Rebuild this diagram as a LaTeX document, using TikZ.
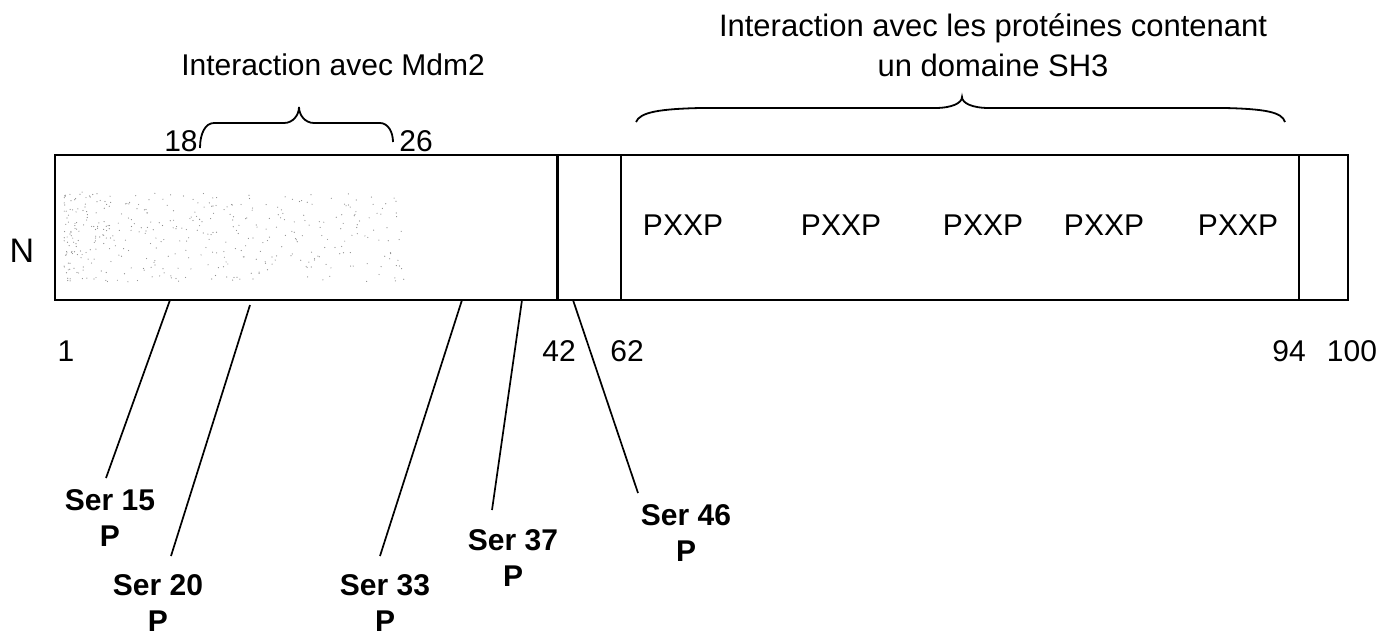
\documentclass[tikz,border=0pt]{standalone}
\usepackage{fontspec}
\setmainfont{Liberation Sans}
\begin{document}
\begin{tikzpicture}[x=1pt,y=-1pt,
  lab/.style={font=\fontsize{30}{36}\selectfont, inner sep=0pt},
  title/.style={font=\fontsize{31}{40}\selectfont, inner sep=0pt, align=center},
  ser/.style={font=\fontsize{30}{36}\selectfont\bfseries, align=center, inner sep=0pt, anchor=north},
  conn/.style={line width=1.7pt},
  outline/.style={line width=2.3pt},
  bracestyle/.style={line width=1.8pt}]
\useasboundingbox (0,0) rectangle (1394,638);

% stipple texture in the left region
\pgfmathsetseed{42}
\foreach \i in {1,...,420}{
  \pgfmathsetmacro{\px}{64+340*pow(rnd,1.5)}
  \pgfmathsetmacro{\py}{192+90*rnd}
  \fill[black!45] (\px,\py) circle (0.6pt);
}

% box
\coordinate (bnw) at (55,155);
\coordinate (bse) at (1348,300);
\draw[outline] (bnw) rectangle (bse);
\coordinate (d1t) at (557,155); \coordinate (d1b) at (557,300);
\coordinate (d2t) at (621,155); \coordinate (d2b) at (621,300);
\coordinate (d3t) at (1299,155); \coordinate (d3b) at (1299,300);
\draw[line width=3pt] (d1t) -- (d1b);
\draw[outline] (d2t) -- (d2b);
\draw[outline] (d3t) -- (d3b);

% labels inside box
\node[lab, anchor=base] (px1) at (683,235) {PXXP};
\node[lab, anchor=base] (px2) at (841,235) {PXXP};
\node[lab, anchor=base] (px3) at (983,235) {PXXP};
\node[lab, anchor=base] (px4) at (1104,235) {PXXP};
\node[lab, anchor=base] (px5) at (1238,235) {PXXP};
\node[lab, anchor=base, font=\fontsize{34}{40}\selectfont] (nterm) at (22,262) {N};

% position numbers
\node[lab, anchor=base] (n1) at (66,361) {1};
\node[lab, anchor=base] (n42) at (559,361) {42};
\node[lab, anchor=base] (n62) at (627,361) {62};
\node[lab, anchor=base] (n94) at (1289,361) {94};
\node[lab, anchor=base] (n100) at (1352,361) {100};
\node[lab, anchor=base] (n18) at (181,151) {18};
\node[lab, anchor=base] (n26) at (416,151) {26};

% titles
\node[lab, anchor=base] (tmdm) at (333,75) {Interaction avec Mdm2};
\node[title, anchor=north] (tsh3) at (993,13) {Interaction avec les protéines contenant\\un domaine SH3};

% braces
\draw[bracestyle] (200,148) .. controls (200,134) and (205,123) .. (214,123)
  -- (284,123) .. controls (293,123) and (299,115) .. (299,107)
  .. controls (299,115) and (305,123) .. (314,123)
  -- (380,123) .. controls (388,123) and (393,132) .. (393,142);
\draw[bracestyle] (636,122) .. controls (640,112) and (660,109) .. (700,108)
  -- (935,108) .. controls (952,108) and (962,103) .. (962,97)
  .. controls (962,103) and (972,108) .. (989,108)
  -- (1225,108) .. controls (1265,109) and (1282,112) .. (1285,122);

% phosphorylation sites
\coordinate (b15) at (170,300); \coordinate (e15) at (106,478);
\coordinate (b20) at (250,305); \coordinate (e20) at (171,556);
\coordinate (b33) at (462,300); \coordinate (e33) at (380,556);
\coordinate (b37) at (522,300); \coordinate (e37) at (492,510);
\coordinate (b46) at (573,300); \coordinate (e46) at (638,493);
\draw[conn] (b15) -- (e15);
\draw[conn] (b20) -- (e20);
\draw[conn] (b33) -- (e33);
\draw[conn] (b37) -- (e37);
\draw[conn] (b46) -- (e46);

\node[ser] (s15) at (110,489) {Ser 15\\P};
\node[ser] (s20) at (158,574) {Ser 20\\P};
\node[ser] (s33) at (385,574) {Ser 33\\P};
\node[ser] (s37) at (513,529) {Ser 37\\P};
\node[ser] (s46) at (686,504) {Ser 46\\P};
\end{tikzpicture}
\end{document}
